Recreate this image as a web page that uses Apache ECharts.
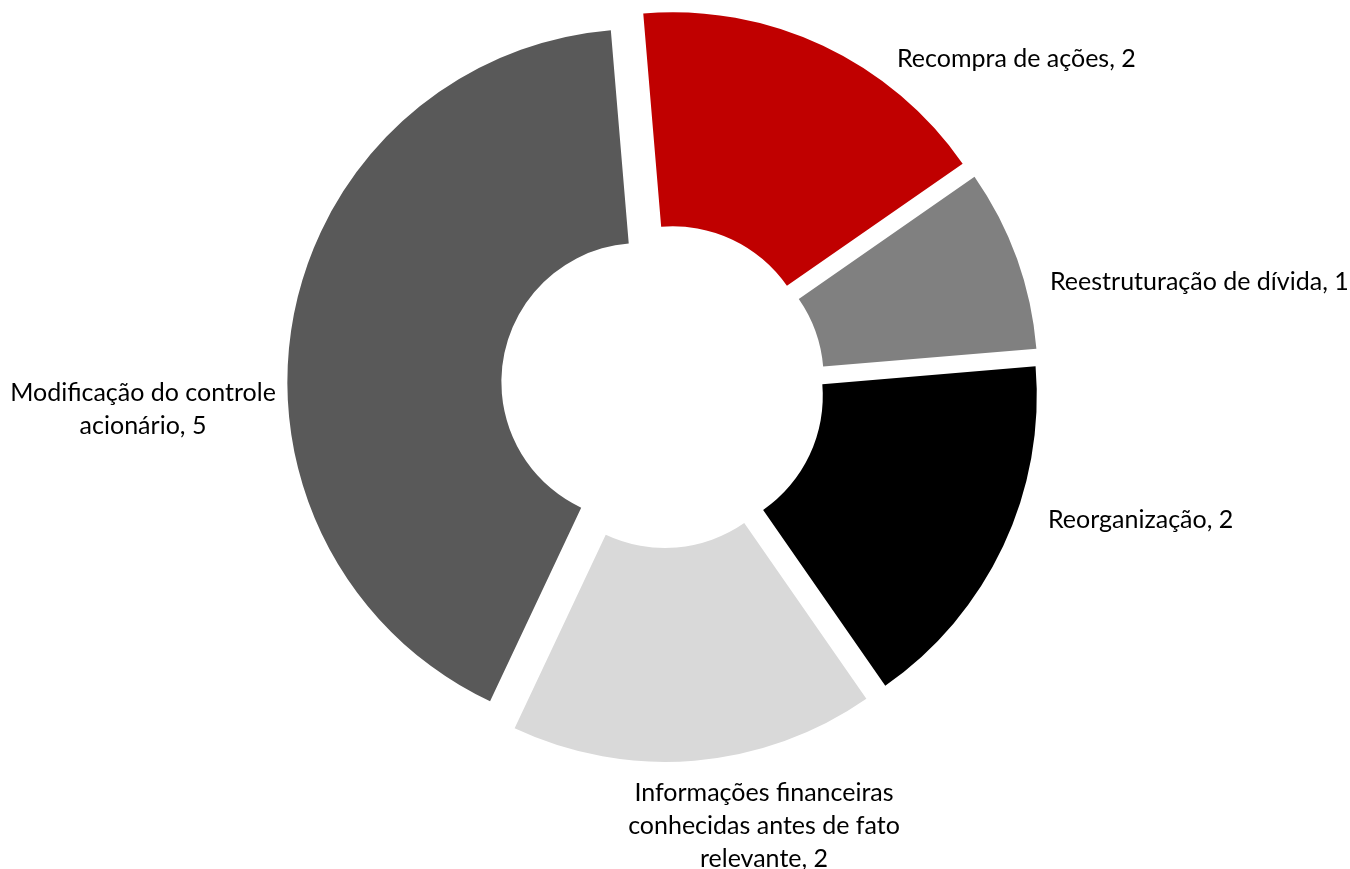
<!DOCTYPE html>
<html>
<head>
<meta charset="utf-8">
<script src="https://cdn.jsdelivr.net/npm/echarts@6/dist/echarts.min.js"></script>
<style>
  html, body { margin: 0; padding: 0; background: #fff; }
  #chart { width: 1350px; height: 869px; }
</style>
</head>
<body>
<div id="chart"></div>
<script>
// categories and counts, clockwise from the top
const categories = [
    'Recompra de ações',
    'Reestruturação de dívida',
    'Reorganização',
    'Informações financeiras\nconhecidas antes de fato\nrelevante',
    'Modificação do controle\nacionário'
];
const counts = [2, 1, 2, 2, 5];
const colors = ['#C00000', '#808080', '#000000', '#D9D9D9', '#595959'];

// where each label sits (x, y, align)
const labelSpots = [
    [897, 59, 'left'],
    [1050, 282, 'left'],
    [1048, 520, 'left'],
    [764, 826, 'center'],
    [143, 409, 'center']
];

const chart = echarts.init(document.getElementById('chart'));

const pieBase = {
    type: 'pie',
    center: [663, 386],
    radius: [139, 353],
    startAngle: 94.8,
    clockwise: true,
    emphasis: { disabled: true }
};

chart.setOption({
    animation: false,
    series: [
        // exploded doughnut slices
        Object.assign({}, pieBase, {
            selectedMode: 'multiple',
            selectedOffset: 23,
            itemStyle: { borderWidth: 0 },
            label: { show: false },
            labelLine: { show: false },
            data: categories.map((name, i) => ({
                name: name,
                value: counts[i],
                selected: true,
                itemStyle: { color: colors[i] }
            }))
        }),
        // labels only (same angles, no fill)
        Object.assign({}, pieBase, {
            silent: true,
            itemStyle: { color: 'rgba(0,0,0,0)', borderWidth: 0 },
            label: {
                show: true,
                position: 'outside',
                overflow: 'none',
                formatter: p => p.name + ', ' + p.value,
                color: '#000',
                fontFamily: 'Lato',
                fontSize: 25,
                lineHeight: 33
            },
            labelLine: { show: false },
            labelLayout: params => {
                const s = labelSpots[params.dataIndex];
                return { x: s[0], y: s[1], align: s[2], verticalAlign: 'middle' };
            },
            data: categories.map((name, i) => ({ name: name, value: counts[i] }))
        })
    ]
});
</script>
</body>
</html>
